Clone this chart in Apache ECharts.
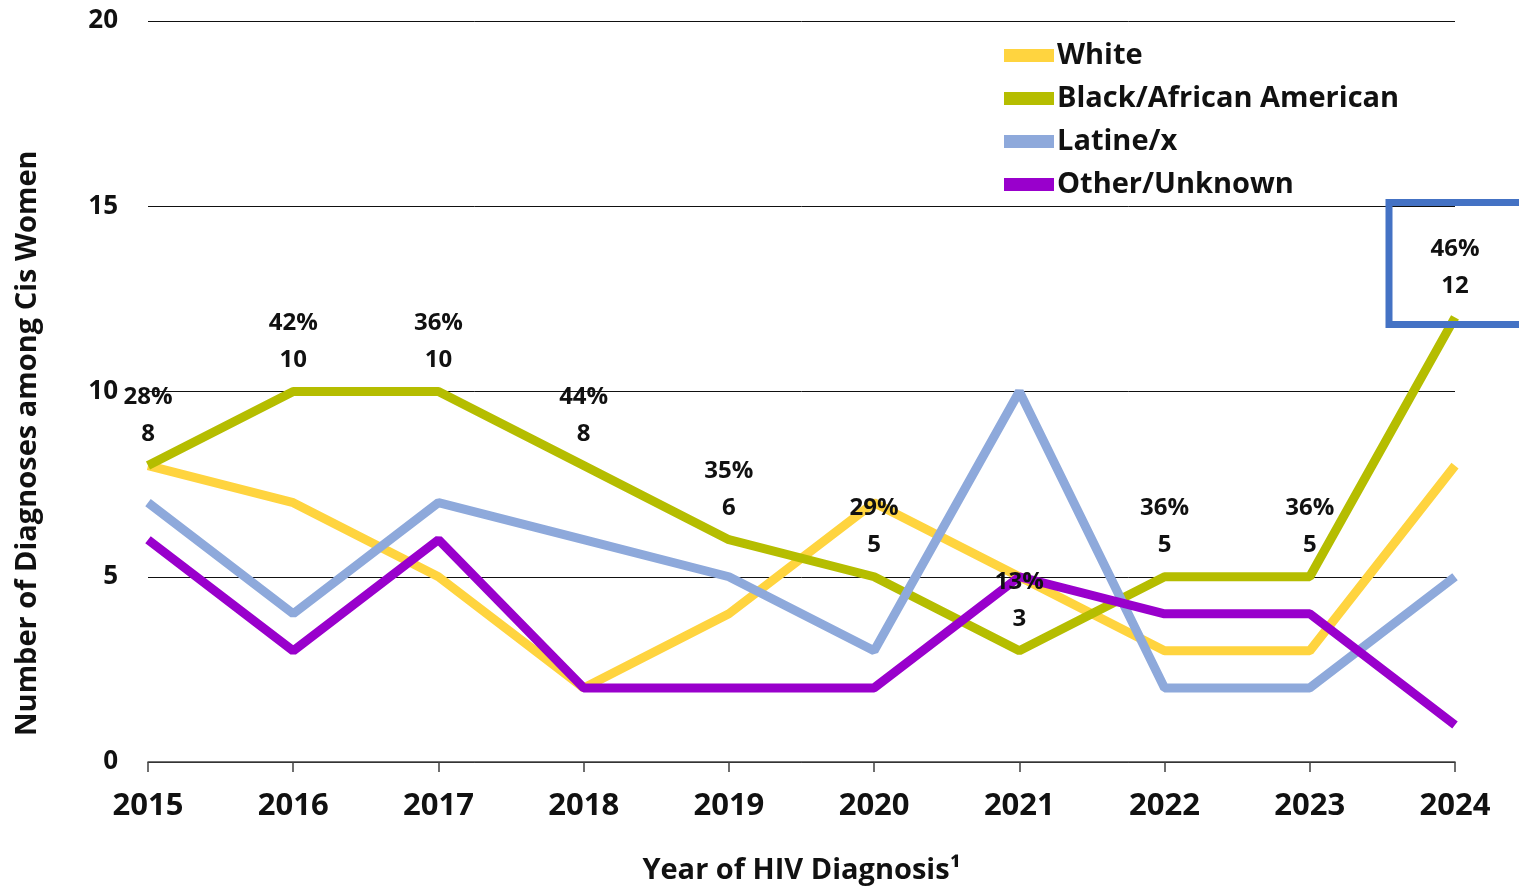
<!DOCTYPE html>
<html>
<head>
<meta charset="utf-8">
<script src="https://cdn.jsdelivr.net/npm/echarts@6/dist/echarts.min.js"></script>
<style>
  html, body { margin: 0; padding: 0; background: #fff; }
  #chart { width: 1519px; height: 886px; }
</style>
</head>
<body>
<div id="chart"></div>
<script>
// data
const years = ['2015', '2016', '2017', '2018', '2019', '2020', '2021', '2022', '2023', '2024']
const white = [8, 7, 5, 2, 4, 7, 5, 3, 3, 8]
const black = [8, 10, 10, 8, 6, 5, 3, 5, 5, 12]
const latine = [7, 4, 7, 6, 5, 3, 10, 2, 2, 5]
const other = [6, 3, 6, 2, 2, 2, 5, 4, 4, 1]
const blackPct = ['28%', '42%', '36%', '44%', '35%', '29%', '13%', '36%', '36%', '46%']

const font = 'Open Sans'
const chart = echarts.init(document.getElementById('chart'))

function line(name, data, color) {
  return {
    name,
    type: 'line',
    data,
    symbol: 'circle',
    symbolSize: 0,
    showSymbol: true,
    itemStyle: { color },
    lineStyle: { color, width: 9 },
    emphasis: { disabled: true },
    animation: false
  }
}

const blackSeries = line('Black/African American', black, '#B5BD00')
blackSeries.label = {
  show: true,
  position: 'top',
  distance: 13,
  fontFamily: font,
  fontWeight: 'bold',
  fontSize: 24,
  lineHeight: 37,
  color: '#111',
  formatter: p => blackPct[p.dataIndex] + '\n' + p.value
}

chart.setOption({
  backgroundColor: '#fff',
  grid: { left: 148, right: 64, top: 21, bottom: 124, outerBoundsMode: 'none', containLabel: false },
  legend: {
    orient: 'vertical',
    left: 999,
    top: 36,
    itemWidth: 50,
    itemHeight: 13,
    itemGap: 14,
    icon: 'rect',
    selectedMode: false,
    textStyle: { fontFamily: font, fontWeight: 'bold', fontSize: 29, color: '#111', padding: [0, 0, 0, -2] },
    data: ['White', 'Black/African American', 'Latine/x', 'Other/Unknown']
  },
  xAxis: {
    type: 'category',
    data: years,
    boundaryGap: false,
    axisLine: { lineStyle: { color: '#404040', width: 1.5 } },
    axisTick: { length: 10, lineStyle: { color: '#404040', width: 1.5 } },
    axisLabel: { margin: 29, fontFamily: font, fontWeight: 'bold', fontSize: 31, color: '#111' },
    name: 'Year of HIV Diagnosis\u00b9',
    nameLocation: 'middle',
    nameGap: 94,
    nameTextStyle: { fontFamily: font, fontWeight: 'bold', fontSize: 29, color: '#111' }
  },
  yAxis: {
    type: 'value',
    min: 0,
    max: 20,
    interval: 5,
    axisLine: { show: false },
    axisTick: { show: false },
    splitLine: { lineStyle: { color: '#111', width: 1 } },
    axisLabel: { margin: 30, fontFamily: font, fontWeight: 'bold', fontSize: 26, color: '#111' }
  },
  series: [
    line('White', white, '#FFD43F'),
    blackSeries,
    line('Latine/x', latine, '#8EA9DB'),
    line('Other/Unknown', other, '#9900CC')
  ]
})

// y title and the highlight box round the last label
const last = chart.convertToPixel({ seriesIndex: 1 }, [years.length - 1, black[black.length - 1]])
chart.setOption({
  graphic: [{
    type: 'text',
    rotation: Math.PI / 2,
    x: 13,
    y: 736,
    style: {
      text: 'Number of Diagnoses among Cis Women',
      fontFamily: font,
      fontWeight: 'bold',
      fontSize: 29,
      fill: '#111'
    }
  }, {
    type: 'rect',
    shape: { x: last[0] - 66, y: last[1] - 115, width: 140, height: 122 },
    style: { fill: 'none', stroke: '#4472C4', lineWidth: 7 },
    z: 10
  }]
})
</script>
</body>
</html>
